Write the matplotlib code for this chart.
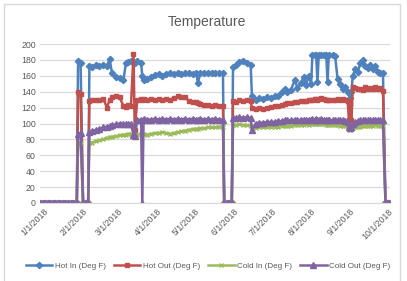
import numpy as np
import matplotlib
matplotlib.use("Agg")
import matplotlib.pyplot as plt
from matplotlib.patches import Rectangle

plt.rcParams['font.family'] = ['Liberation Sans', 'DejaVu Sans']

# dni od 1.1.2018
days = [-3, -1, 1, 3, 5, 7, 9, 11, 13, 15, 17, 19, 21, 23, 25, 26,
        27, 29,
        31, 33, 35,
        36, 38, 41, 44, 47, 50, 52, 54, 57, 60, 63, 65, 67, 69, 71, 72, 74, 77, 78, 79,
        82, 85, 88, 91, 94, 97, 100, 103, 106, 109, 112, 115, 118, 121, 122, 124, 127,
        130, 133, 136, 139, 142,
        143, 145, 147, 149,
        150, 152, 155, 158, 161, 164, 165, 168, 171, 174, 177, 180, 183, 186, 189, 191,
        193, 196, 199, 201, 204, 206, 208, 210, 212, 213, 215, 216, 217, 218, 220, 222,
        224, 225, 226, 229, 231, 233, 235, 237, 239, 241, 242, 243, 244, 245, 247, 249,
        251, 253, 255, 257, 259, 261, 263, 265, 267, 269,
        271, 272, 273, 274]

hot_in = [0, 0, 0, 0, 0, 0, 0, 0, 0, 0, 0, 0, 0, 0, 0, 0,
          178, 176,
          0, 0, 0,
          172, 171, 173, 172, 174, 172, 181, 163, 158, 157, 155, 176, 177, 178, 177, 176, 178, 176, 160, 155,
          156, 159, 161, 162, 160, 162, 163, 162, 163, 162, 164, 163, 162, 163, 151, 163, 164,
          163, 164, 163, 164, 163,
          0, 0, 0, 0,
          171, 173, 177, 179, 176, 174, 134, 130, 132, 131, 133, 132, 134, 135, 140, 143,
          140, 142, 155, 145, 151, 158, 148, 160, 150, 186, 186, 186, 152, 186, 186, 186,
          186, 152, 186, 186, 185, 156, 150, 143, 146, 140, 138, 132, 140, 160, 168, 165,
          176, 180, 172, 170, 174, 168, 172, 165, 164, 163,
          0, 0, 0, 0]

hot_out = [0, 0, 0, 0, 0, 0, 0, 0, 0, 0, 0, 0, 0, 0, 0, 0,
           139, 137,
           0, 0, 0,
           128, 129, 130, 129, 131, 120, 130, 133, 134, 133, 122, 121, 123, 122, 188, 92, 130, 131, 130, 131,
           130, 131, 130, 131, 130, 131, 130, 132, 134, 133, 133, 128, 127, 127, 126, 124, 123,
           123, 122, 123, 122, 122,
           0, 0, 0, 0,
           128, 127, 129, 128, 129, 128, 119, 118, 119, 118, 120, 121, 122, 122, 123, 125,
           126, 126, 127, 127, 128, 128, 128, 129, 129, 130, 131, 131, 130, 131, 132, 131,
           129, 130, 129, 130, 130, 131, 130, 131, 129, 128, 104, 125, 104, 146, 145, 143,
           144, 142, 146, 144, 145, 143, 146, 144, 145, 141,
           0, 0, 0, 0]

cold_in = [0, 0, 0, 0, 0, 0, 0, 0, 0, 0, 0, 0, 0, 0, 0, 0,
           74, 75,
           0, 0, 0,
           75, 76, 78, 79, 80, 82, 83, 83, 84, 85, 86, 86, 87, 87, 86, 85, 86, 87, 87, 87,
           86, 87, 88, 88, 89, 88, 87, 88, 89, 90, 91, 92, 93, 93, 93, 94, 94,
           95, 95, 95, 96, 96,
           0, 0, 0, 0,
           98, 98, 99, 98, 98, 97, 94, 94, 95, 95, 95, 96, 96, 96, 97, 97,
           97, 97, 98, 98, 98, 98, 99, 98, 99, 99, 99, 99, 99, 99, 99, 99,
           98, 98, 98, 98, 98, 98, 97, 97, 97, 96, 94, 92, 93, 94, 95, 96,
           96, 97, 97, 97, 97, 97, 98, 97, 97, 97,
           0, 0, 0, 0]

cold_out = [0, 0, 0, 0, 0, 0, 0, 0, 0, 0, 0, 0, 0, 0, 0, 0,
            87, 88,
            0, 0, 0,
            89, 90, 92, 93, 95, 96, 97, 98, 99, 100, 100, 99, 100, 99, 86, 84, 104, 105, 0, 106,
            105, 105, 106, 105, 106, 105, 106, 105, 106, 105, 106, 105, 106, 105, 105, 106, 105,
            106, 105, 106, 105, 105,
            0, 0, 0, 0,
            107, 107, 108, 107, 108, 107, 92, 100, 101, 101, 102, 102, 102, 103, 103, 104,
            104, 104, 105, 104, 105, 105, 105, 105, 105, 106, 105, 106, 105, 105, 106, 105,
            105, 105, 105, 104, 105, 104, 104, 104, 103, 102, 96, 94, 96, 100, 102, 103,
            104, 104, 105, 104, 105, 104, 105, 105, 104, 104,
            0, 0, 0, 0]

series_names = ['Hot In (Deg F)', 'Hot Out (Deg F)', 'Cold In (Deg F)', 'Cold Out (Deg F)']
tick_labels = ['1/1/2018', '2/1/2018', '3/1/2018', '4/1/2018', '5/1/2018',
               '6/1/2018', '7/1/2018', '8/1/2018', '9/1/2018', '10/1/2018']

start = np.datetime64('2018-01-01')
dates = start + np.array(days).astype('timedelta64[D]')
tick_dates = [start]
for m in range(2, 11):
    tick_dates.append(np.datetime64('2018-%02d-01' % m))

colors = ['#4F81BD', '#C0504D', '#9BBB59', '#8064A2']
markers = ['D', 's', 'x', '^']
msizes = [3.2, 3.5, 3.5, 3.8]

fig = plt.figure(figsize=(4.07, 2.81), dpi=100)
ax = fig.add_axes([40 / 407, 1 - 203 / 281, 350 / 407, 159 / 281])

for vals, name, c, mk, ms in zip([hot_in, hot_out, cold_in, cold_out], series_names,
                                 colors, markers, msizes):
    ax.plot(dates, vals, color=c, lw=1.8, marker=mk, ms=ms, mew=1.0, label=name)

ax.set_ylim(0, 200)
ax.set_yticks(range(0, 201, 20))
ax.set_xlim(start + np.timedelta64(-77, 'h'), start + np.timedelta64(274 * 24 + 14, 'h'))
ax.set_xticks(tick_dates)
ax.set_xticklabels(tick_labels, rotation=45, ha='right', va='top', rotation_mode='anchor')
ax.tick_params(axis='both', length=0, labelsize=6.3, labelcolor='#595959', pad=3)
ax.grid(axis='y', color='#D9D9D9', lw=0.9)
ax.set_axisbelow(True)
for s in ['top', 'right', 'left']:
    ax.spines[s].set_visible(False)
ax.spines['bottom'].set_color('#D9D9D9')

fig.text(207 / 407, 1 - 22 / 281, 'Temperature', ha='center', va='center',
         fontsize=10, color='#595959')

leg = fig.legend(loc='center', bbox_to_anchor=(208 / 407, 1 - 266 / 281), ncol=4,
                 frameon=False, fontsize=5.8, handlelength=3.3, columnspacing=1.0,
                 handletextpad=0.3, labelcolor='#595959')

fig.patches.append(Rectangle((4 / 407, -0.05), 396 / 407, 1.05 - 4 / 281,
                             transform=fig.transFigure, fill=False,
                             edgecolor='#D9D9D9', lw=1))

fig.savefig('out.png', dpi=100)
